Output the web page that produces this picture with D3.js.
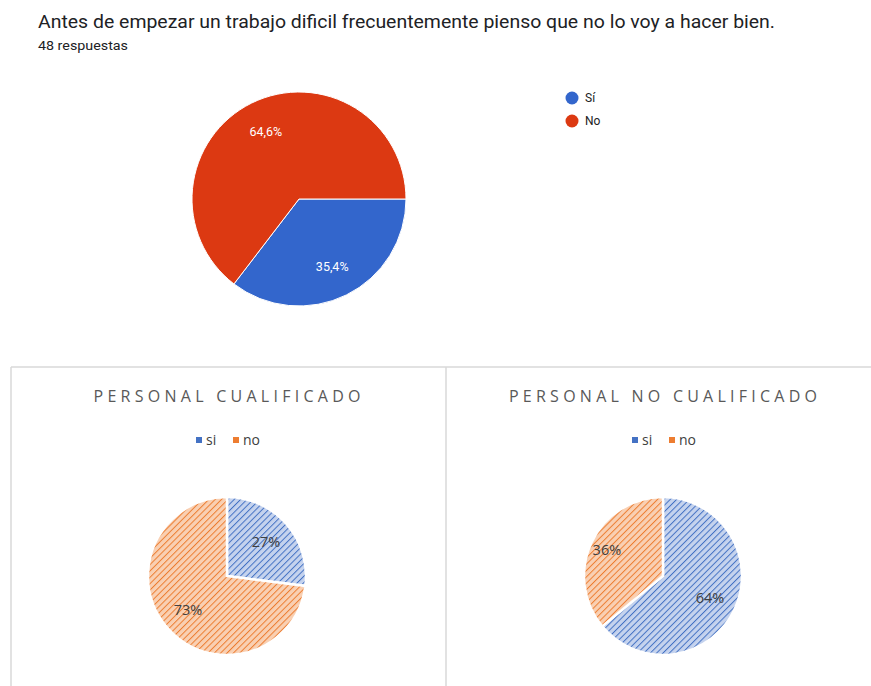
<!DOCTYPE html>
<html>
<head>
<meta charset="utf-8">
<script src="https://cdn.jsdelivr.net/npm/d3@7"></script>
<style>
  body { margin: 0; background: #fff; font-family: Roboto, Arial, sans-serif; }
  svg { display: block; }
</style>
</head>
<body>
<svg id="chart" width="871" height="686"></svg>
<script>
  // top chart (google forms)
  let topTitle = "Antes de empezar un trabajo dificil frecuentemente pienso que no lo voy a hacer bien."
  let topSubtitle = "48 respuestas"
  let topCategories = ["Sí", "No"]
  let topValues = [35.4, 64.6]
  let topLabels = ["35,4%", "64,6%"]
  let topColors = ["#3366cc", "#dc3912"]

  // bottom charts (excel)
  let subCategories = ["si", "no"]
  let subTitles = ["PERSONAL CUALIFICADO", "PERSONAL NO CUALIFICADO"]
  let qualifiedValues = [27, 73]
  let unqualifiedValues = [64, 36]
  let subColors = ["#4472c4", "#ed7d31"]
  let subLight = ["#c5d3ee", "#f9d0b3"]

  let svg = d3.select("#chart")

  // hatch patterns
  let defs = svg.append("defs")
  subColors.forEach((c, i) => {
    let p = defs.append("pattern")
      .attr("id", "hatch" + i)
      .attr("patternUnits", "userSpaceOnUse")
      .attr("width", 4.5).attr("height", 4.5)
      .attr("patternTransform", "rotate(45)")
    p.append("rect").attr("width", 4.5).attr("height", 4.5).attr("fill", subLight[i])
    p.append("line").attr("x1", 0).attr("y1", 0).attr("x2", 0).attr("y2", 4.5)
      .attr("stroke", c).attr("stroke-width", 2)
  })

  // ---- top chart ----
  svg.append("text")
    .attr("x", 38).attr("y", 28)
    .attr("font-size", 18.5).attr("fill", "#202124")
    .attr("textLength", 737).attr("lengthAdjust", "spacingAndGlyphs")
    .text(topTitle)
  svg.append("text")
    .attr("x", 38).attr("y", 50)
    .attr("font-size", 12).attr("fill", "#202124")
    .attr("textLength", 90).attr("lengthAdjust", "spacingAndGlyphs")
    .text(topSubtitle)

  let topPie = d3.pie().sort(null)
    .startAngle(Math.PI / 2).endAngle(Math.PI / 2 + 2 * Math.PI)
  let topArc = d3.arc().innerRadius(0).outerRadius(107)
  let topG = svg.append("g").attr("transform", "translate(299,199)")
  let topArcs = topPie(topValues)
  topG.selectAll("path").data(topArcs).enter().append("path")
    .attr("d", topArc)
    .attr("fill", (d, i) => topColors[i])
    .attr("stroke", "#fff").attr("stroke-width", 1)
  let topLabelArc = d3.arc().innerRadius(75).outerRadius(75)
  topG.selectAll("text").data(topArcs).enter().append("text")
    .attr("transform", d => {
      let [x, y] = topLabelArc.centroid(d)
      return `translate(${x},${y})`
    })
    .attr("text-anchor", "middle").attr("dy", "0.35em")
    .attr("font-size", 12.5).attr("fill", "#fff")
    .text((d, i) => topLabels[i])

  let topLegend = svg.append("g").attr("transform", "translate(572,98)")
  topCategories.forEach((c, i) => {
    let g = topLegend.append("g").attr("transform", `translate(0,${i * 23})`)
    g.append("circle").attr("r", 6.5).attr("fill", topColors[i])
    g.append("text").attr("x", 13).attr("dy", "0.35em")
      .attr("font-size", 12).attr("fill", "#222").text(c)
  })

  // ---- bottom panels ----
  svg.append("line").attr("x1", 11).attr("x2", 871).attr("y1", 367).attr("y2", 367)
    .attr("stroke", "#d9d9d9").attr("stroke-width", 1.5)
  svg.append("line").attr("x1", 11).attr("x2", 11).attr("y1", 367).attr("y2", 686)
    .attr("stroke", "#d9d9d9").attr("stroke-width", 1.5)
  svg.append("line").attr("x1", 446).attr("x2", 446).attr("y1", 367).attr("y2", 686)
    .attr("stroke", "#d9d9d9").attr("stroke-width", 1.5)

  function drawSubChart(values, title, cx, titleWidth, labelR) {
    let g = svg.append("g")
    g.append("text")
      .attr("x", cx).attr("y", 402)
      .attr("text-anchor", "middle")
      .attr("font-family", "'Open Sans', sans-serif")
      .attr("font-size", 16)
      .attr("textLength", titleWidth).attr("lengthAdjust", "spacing")
      .attr("fill", "#595959")
      .text(title)

    // legend
    let legend = g.append("g").attr("transform", `translate(${cx - 31},440)`)
    subCategories.forEach((c, i) => {
      let item = legend.append("g").attr("transform", `translate(${i * 37},0)`)
      item.append("rect").attr("x", 0).attr("y", -3).attr("width", 6).attr("height", 6)
        .attr("fill", subColors[i])
      item.append("text").attr("x", 10).attr("dy", "0.35em")
        .attr("font-family", "'Open Sans', sans-serif")
        .attr("font-size", 14).attr("fill", "#404040").text(c)
    })

    let pie = d3.pie().sort(null)
    let arc = d3.arc().innerRadius(0).outerRadius(79)
    let pg = g.append("g").attr("transform", `translate(${cx},576)`)
    let arcs = pie(values)
    pg.selectAll("path").data(arcs).enter().append("path")
      .attr("d", arc)
      .attr("fill", (d, i) => `url(#hatch${i})`)
      .attr("stroke", "#fff").attr("stroke-width", 2.5)
    pg.selectAll("text").data(arcs).enter().append("text")
      .attr("transform", (d, i) => {
        let r = labelR[i]
        let [x, y] = d3.arc().innerRadius(r).outerRadius(r).centroid(d)
        return `translate(${x},${y})`
      })
      .attr("text-anchor", "middle").attr("dy", "0.35em")
      .attr("font-family", "'Open Sans', sans-serif")
      .attr("font-size", 14.5).attr("fill", "#404040")
      .text(d => d.data + "%")
  }

  drawSubChart(qualifiedValues, subTitles[0], 227, 267, [52, 52])
  drawSubChart(unqualifiedValues, subTitles[1], 663, 308, [52, 62])
</script>
</body>
</html>
